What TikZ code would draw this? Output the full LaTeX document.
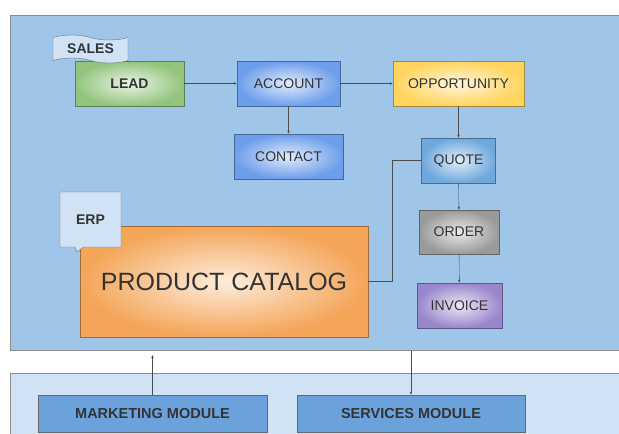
\documentclass[tikz,border=0pt]{standalone}
\usepackage{fontspec}
\setmainfont{Liberation Sans}
\usepackage{tikz}
\usetikzlibrary{positioning,arrows.meta,shapes.symbols,shapes.callouts}

\definecolor{panelblue}{HTML}{9FC5E8}
\definecolor{lowblue}{HTML}{D0E2F3}
\definecolor{modblue}{HTML}{6CA2DC}
\definecolor{leadgreen}{HTML}{93C47D}
\definecolor{acctblue}{HTML}{6D9EEB}
\definecolor{oppyellow}{HTML}{FFD45C}
\definecolor{quoteblue}{HTML}{6FA8DC}
\definecolor{ordergray}{HTML}{9A9A9A}
\definecolor{invpurple}{HTML}{9A86CC}
\definecolor{catorange}{HTML}{F4A558}
\definecolor{txt}{HTML}{333333}

\tikzset{
  box/.style={draw=#1!65!black, inner color=#1!20!white, outer color=#1,
    text=txt, font=\fontsize{14}{16}\selectfont, inner sep=0pt},
  flag/.style={draw=black!55, fill=lowblue, text=txt,
    font=\fontsize{14}{16}\selectfont\bfseries, inner sep=0pt},
  modbox/.style={draw=black!60, fill=modblue, text=txt,
    font=\fontsize{14.5}{16}\selectfont\bfseries, minimum height=37pt, inner sep=0pt},
  arr/.style={-{Latex[length=3pt,width=2.5pt]}, draw=black!70, thin},
  link/.style={draw=black!70, thin}
}

\begin{document}
\begin{tikzpicture}[x=1pt,y=-1pt]
	\useasboundingbox (0,0) rectangle (619,434);
	\fill[white] (0,0) rectangle (619,434);
	
	% panels
	\node[draw=black!45, fill=panelblue, minimum width=620pt, minimum height=335pt, anchor=north west, inner sep=0pt] (mainpanel) at (10,15) {};
	\node[draw=black!45, fill=lowblue, minimum width=620pt, minimum height=70pt, anchor=north west, inner sep=0pt] (lowpanel) at (10,373) {};
	
	% sales flow
	\node[box=leadgreen, minimum width=109pt, minimum height=45pt, font=\fontsize{14}{16}\selectfont\bfseries] (lead) at (129.5,83.5) {LEAD};
	\node[box=acctblue, minimum width=103pt, minimum height=45pt] (account) at (288.5,83.5) {ACCOUNT};
	\node[box=acctblue, minimum width=109pt, minimum height=45pt] (contact) at (288.5,156.5) {CONTACT};
	\node[box=oppyellow, minimum width=131pt, minimum height=45pt] (opportunity) at (458.5,83.5) {OPPORTUNITY};
	\node[box=quoteblue, minimum width=74pt, minimum height=45pt] (quote) at (458.5,160.5) {QUOTE};
	\node[box=ordergray, minimum width=80pt, minimum height=44pt] (order) at (459,232) {ORDER};
	\node[box=invpurple, minimum width=85pt, minimum height=45pt] (invoice) at (459.5,305.5) {INVOICE};
	\node[flag, tape, tape bend top=out and in, tape bend bottom=out and in, minimum width=75pt, minimum height=28pt] (sales) at (90.5,49) {SALES};
	
	% erp
	\node[box=catorange, minimum width=288pt, minimum height=111pt, font=\fontsize{25}{28}\selectfont] (catalog) at (224,281.5) {PRODUCT CATALOG};
	\node[flag, rectangle callout, callout absolute pointer={(77,252)}, callout pointer width=9pt, minimum width=61pt, minimum height=55pt] (erp) at (90.5,219.5) {ERP};
	
	% modules
	\node[modbox, minimum width=229pt] (marketing) at (152.5,413.5) {MARKETING MODULE};
	\node[modbox, minimum width=228pt] (services) at (411,413.5) {SERVICES MODULE};
	\coordinate (mktip) at (152.5,355);
	\coordinate (svstart) at (411,351);
	
	\draw[arr] (lead) -- (account);
	\draw[arr] (account) -- (opportunity);
	\draw[arr] (account) -- (contact);
	\draw[arr] (opportunity) -- (quote);
	\draw[arr] (quote) -- (order);
	\draw[arr] (order) -- (invoice);
	\draw[link] (catalog.east) -| ([xshift=-29pt]quote.west) -- (quote.west);
	\draw[arr] (marketing.north) -- (mktip);
	\draw[arr] (svstart) -- (services.north);
\end{tikzpicture}
\end{document}
